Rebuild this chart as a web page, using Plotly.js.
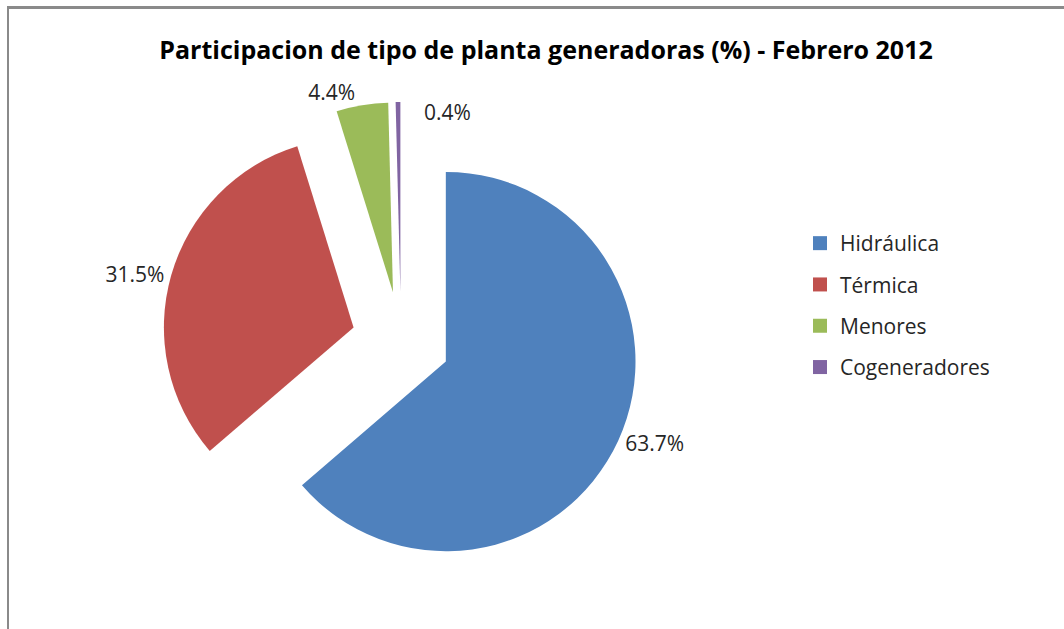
<!DOCTYPE html>
<html>
<head>
<meta charset="utf-8">
<script src="https://cdn.plot.ly/plotly-3.0.1.min.js"></script>
<style>
  html, body { margin: 0; padding: 0; background: #ffffff; overflow: hidden; }
  #chart { width: 1064px; height: 629px; position: absolute; left: 0; top: 0; }
  #frame { position: absolute; left: 7px; top: 6px; width: 2000px; height: 2000px;
           border-left: 2px solid #8a8a8a; border-top: 3px solid #8a8a8a;
           pointer-events: none; box-sizing: border-box; }
</style>
</head>
<body>
<div id="chart"></div>
<div id="frame"></div>
<script>
// ---- data ----
const categories = ["Hidráulica", "Térmica", "Menores", "Cogeneradores"];
const shares = [63.7, 31.5, 4.4, 0.4];
const sliceColors = ["#4F81BD", "#C0504D", "#9BBB59", "#8064A2"];
const chartTitle = "Participacion de tipo de planta generadoras (%) - Febrero 2012";

const W = 1064, H = 629;
const FONT = "'Open Sans', 'Noto Sans', sans-serif";
const PULL = 0.26;
const DOM_X = [162 / W, 640 / W];
const DOM_Y = [1 - 580 / H, 1 - 102 / H];

// slices whose label Plotly would push into the title get a side label instead
const total = shares.reduce((a, b) => a + b, 0);
const smallIdx = shares.map((v, i) => (v / total < 0.01 ? i : -1)).filter(i => i >= 0);

const pieTrace = {
  type: "pie",
  labels: categories,
  values: shares,
  sort: false,
  direction: "clockwise",
  rotation: 0,
  pull: categories.map(() => PULL),
  marker: { colors: sliceColors, line: { width: 0 } },
  texttemplate: "%{percent:.1%}",
  textposition: shares.map((v, i) => (smallIdx.includes(i) ? "none" : "outside")),
  textfont: { family: FONT, size: 21, color: "#262626" },
  showlegend: false,
  automargin: false,
  domain: { x: DOM_X, y: DOM_Y },
  hoverinfo: "label+percent"
};

// geometry of the pie (same rule Plotly uses) to set side labels
const domW = (DOM_X[1] - DOM_X[0]) * W, domH = (DOM_Y[1] - DOM_Y[0]) * H;
const cx = (DOM_X[0] + DOM_X[1]) / 2 * W;
const cy = (1 - (DOM_Y[0] + DOM_Y[1]) / 2) * H;
const rad = Math.min(domW, domH) / 2 / (1 + PULL);
const annotations = smallIdx.map(i => {
  const before = shares.slice(0, i).reduce((a, b) => a + b, 0);
  const mid = 2 * Math.PI * (before + shares[i] / 2) / total;
  const R = rad * (1 + PULL);
  const px = cx + R * Math.sin(mid);
  const py = cy - R * Math.cos(mid);
  return {
    xref: "paper", yref: "paper",
    x: px / W, y: 1 - py / H,
    xanchor: "left", yanchor: "middle",
    xshift: 24, yshift: -10,
    showarrow: false,
    text: (shares[i] / total * 100).toFixed(1) + "%",
    font: { family: FONT, size: 21, color: "#262626" }
  };
});

// legend entries (one per category) so the item spacing can be set
const legendTraces = categories.map((c, i) => ({
  type: "scatter",
  mode: "markers",
  x: [null], y: [null],
  name: c,
  legendgroup: c,
  marker: { symbol: "square", size: 14, color: sliceColors[i] },
  hoverinfo: "skip"
}));

const layout = {
  width: W, height: H,
  margin: { l: 0, r: 0, t: 0, b: 0 },
  paper_bgcolor: "#ffffff",
  plot_bgcolor: "#ffffff",
  title: {
    text: "<b>" + chartTitle + "</b>",
    x: 546 / W, xanchor: "center",
    y: 1 - 50 / H, yanchor: "middle",
    font: { family: FONT, size: 25, color: "#000000" }
  },
  xaxis: { visible: false },
  yaxis: { visible: false },
  annotations: annotations,
  showlegend: true,
  legend: {
    x: 800 / W, xanchor: "left",
    y: 1 - 223 / H, yanchor: "top",
    font: { family: FONT, size: 21, color: "#262626" },
    tracegroupgap: 11,
    bgcolor: "rgba(0,0,0,0)"
  }
};

Plotly.newPlot("chart", [pieTrace, ...legendTraces], layout, { displayModeBar: false });
</script>
</body>
</html>
